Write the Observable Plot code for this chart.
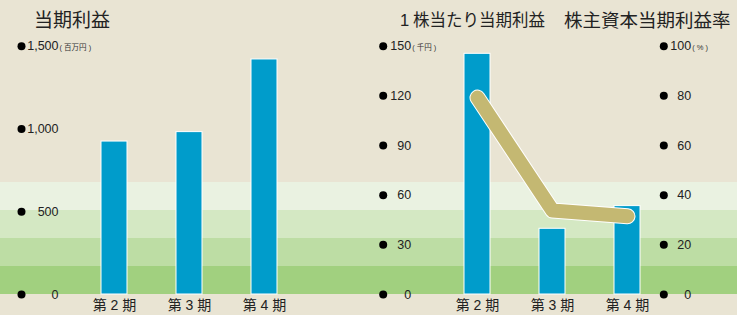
<!DOCTYPE html>
<html>
<head>
<meta charset="utf-8">
<script src="https://cdn.jsdelivr.net/npm/d3@7"></script>
<script src="https://cdn.jsdelivr.net/npm/@observablehq/plot@0.6"></script>
<style>
  html, body { margin: 0; padding: 0; background: #E9E4D3; }
  #wrap {
    position: relative; width: 737px; height: 315px; overflow: hidden;
    background: linear-gradient(to bottom,
      #E9E4D3 0px, #E9E4D3 182px,
      #EAF2E1 182px, #EAF2E1 210px,
      #D4E8C3 210px, #D4E8C3 238px,
      #BDDDA4 238px, #BDDDA4 266px,
      #A1D07F 266px, #A1D07F 294px,
      #E9E4D3 294px, #E9E4D3 315px);
    font-family: "Noto Sans CJK JP", sans-serif;
  }
  .title { position: absolute; color: #222; white-space: nowrap; font-family: "Noto Sans CJK JP", sans-serif; }
  .panel { position: absolute; top: 0; }
  .panel svg { overflow: visible; }
</style>
</head>
<body>
<div id="wrap">
  <div class="title" style="left:34px; top:8px; font-size:19px; line-height:22px;">当期利益</div>
  <div class="title" style="left:400px; top:8px; font-size:16.5px; line-height:22px;"><span style="font-family:'Liberation Sans';">1</span> 株当たり当期利益</div>
  <div class="title" style="left:564px; top:8px; font-size:18.5px; line-height:22px;">株主資本当期利益率</div>
  <div class="panel" id="left" style="left:0px;"></div>
  <div class="panel" id="right" style="left:370px;"></div>
</div>
<script>
// ---- data ----
const periods = ["第 2 期", "第 3 期", "第 4 期"];
const netIncome = [924, 981, 1420];          // 百万円
const eps = [145.4, 39.7, 53.4];             // 千円
const roe = [79.3, 33.8, 31.5];              // %
const incomeTicks = [0, 500, 1000, 1500];
const epsTicks = [0, 30, 60, 90, 120, 150];
const roeTicks = [0, 20, 40, 60, 80, 100];
const incomeUnit = "( 百万円 )";
const epsUnit = "( 千円 )";
const roeUnit = "( % )";

// ---- tables ----
const incomeData = periods.map((p, i) => ({period: p, value: netIncome[i]}));
const epsData = periods.map((p, i) => ({period: p, value: eps[i]}));
const roeData = periods.map((p, i) => ({period: p, value: roe[i]}));

const fmt = d3.format(",");
const numFont = "'Liberation Sans', Arial, sans-serif";
const cjkFont = "'Liberation Sans', 'Noto Sans CJK JP', sans-serif";
const BAR = "#009CCB";
const LINE = "#C4B872";

const common = {
  height: 315, marginTop: 45.7, marginBottom: 21, marginLeft: 0, marginRight: 0,
  style: {background: "transparent", overflow: "visible", fontFamily: cjkFont, color: "#222"}
};

function tickMarks(ticks, toY, dotX, labelX, unit, size) {
  const top = ticks[ticks.length - 1];
  return [
    Plot.dot(ticks, {y: d => toY(d), frameAnchor: "left", dx: dotX, r: 4, fill: "#000", stroke: null}),
    Plot.text(ticks, {y: d => toY(d), text: d => fmt(d), frameAnchor: "left", dx: labelX, textAnchor: "end",
      fontSize: size, fontFamily: numFont, fill: "#222"}),
    Plot.text([unit], {y: () => toY(top), text: d => d, frameAnchor: "left", dx: labelX + 1, dy: 1.5, textAnchor: "start",
      fontSize: 7.5, fontFamily: cjkFont, fill: "#333"})
  ];
}

const left = Plot.plot({
  ...common,
  width: 370,
  x: {domain: periods, range: [100, 277.4], paddingInner: 0.657, paddingOuter: 0, axis: null},
  y: {domain: [0, incomeTicks[incomeTicks.length - 1]], axis: null},
  marks: [
    Plot.barY(incomeData, {x: "period", y: "value", fill: BAR, stroke: "white", strokeWidth: 1}),
    Plot.axisX({tickSize: 0, tickPadding: 6, fontSize: 14, label: null, fontFamily: cjkFont, fill: "#222"}),
    ...tickMarks(incomeTicks, d => d, 21, 58, incomeUnit, 12.5)
  ]
});
document.getElementById("left").appendChild(left);

const epsMax = epsTicks[epsTicks.length - 1];
const roeMax = roeTicks[roeTicks.length - 1];
const roeToY = v => v * epsMax / roeMax;

const right = Plot.plot({
  ...common,
  width: 367,
  x: {domain: periods, range: [92.7, 270.7], paddingInner: 0.653, paddingOuter: 0, axis: null},
  y: {domain: [0, epsMax], axis: null},
  marks: [
    Plot.barY(epsData, {x: "period", y: "value", fill: BAR, stroke: "white", strokeWidth: 1}),
    Plot.line(roeData, {x: "period", y: d => roeToY(d.value), stroke: "white", strokeWidth: 16,
      strokeLinecap: "round", strokeLinejoin: "round"}),
    Plot.line(roeData, {x: "period", y: d => roeToY(d.value), stroke: LINE, strokeWidth: 14,
      strokeLinecap: "round", strokeLinejoin: "round"}),
    Plot.axisX({tickSize: 0, tickPadding: 6, fontSize: 14, label: null, fontFamily: cjkFont, fill: "#222"}),
    ...tickMarks(epsTicks, d => d, 12.7, 40.7, epsUnit, 12.5),
    ...tickMarks(roeTicks, roeToY, 293.3, 320.7, roeUnit, 12.5)
  ]
});
document.getElementById("right").appendChild(right);
</script>
</body>
</html>
